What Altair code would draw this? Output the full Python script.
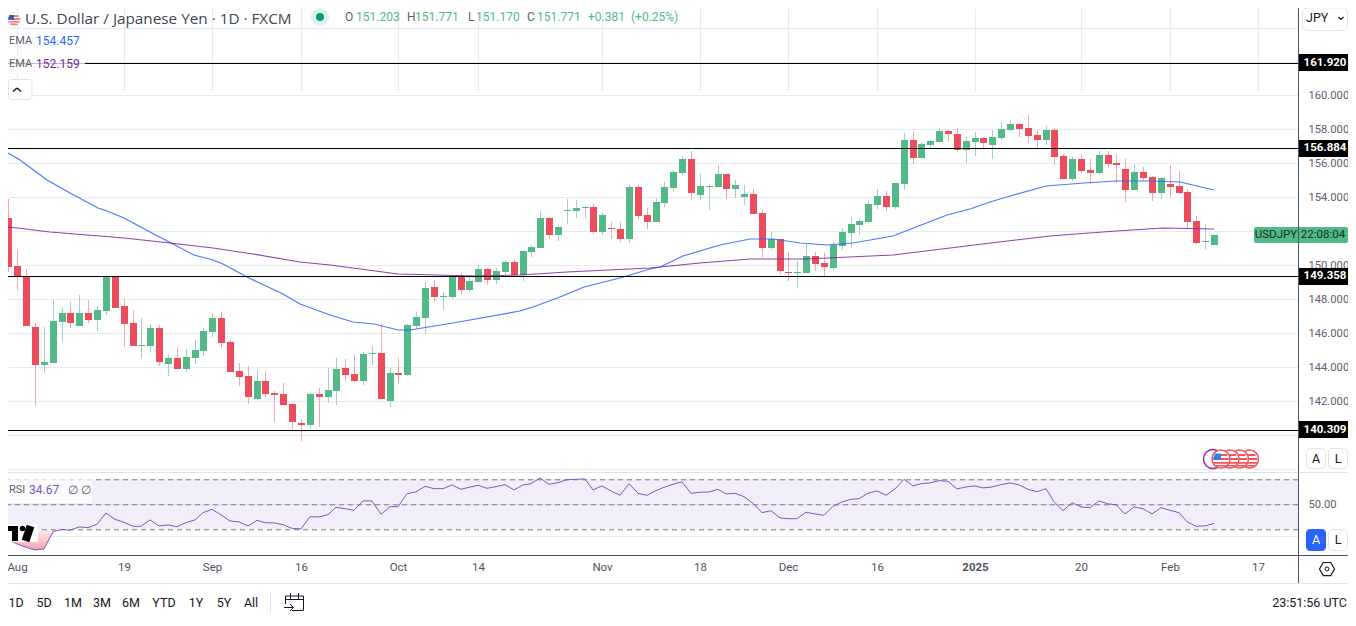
import altair as alt
import pandas as pd

# ---- series values (bars counted from 1 Aug = 0; first bar is index -1) ----
first_bar = -1
open_ = [152.78,149.95,149.36,146.36,144.12,144.26,146.65,147.18,146.42,147.18,
146.77,147.30,149.30,147.59,146.59,145.26,145.24,146.30,144.18,144.53,
143.88,144.53,144.94,146.06,146.89,145.47,143.77,143.47,142.11,143.18,
142.47,142.41,141.82,140.70,140.58,142.41,142.23,142.59,143.94,143.59,
143.18,144.79,144.83,142.00,143.65,143.53,146.42,146.89,148.72,148.14,
148.13,149.30,148.54,149.01,149.78,149.13,149.60,150.19,149.42,150.78,
151.01,152.78,151.78,153.19,153.19,153.37,153.43,151.96,152.19,152.13,
151.54,154.61,152.96,152.55,153.67,154.55,155.43,156.26,154.14,154.61,
154.61,155.37,154.49,154.02,154.20,153.08,151.01,151.54,149.60,149.54,
149.54,150.54,150.13,149.84,151.13,151.90,152.37,152.55,153.55,154.08,
153.43,154.78,157.38,156.32,157.08,157.26,157.91,157.73,156.79,157.26,
157.50,157.08,157.50,157.97,158.32,158.09,157.67,157.38,157.97,156.43,
155.08,156.26,155.61,155.43,156.50,156.02,155.67,154.43,155.49,155.20,
154.25,154.79,154.67,154.31,152.60,151.39,151.203]
high = [153.90,150.90,149.78,146.57,146.36,147.95,147.54,147.83,148.24,147.95,
147.59,149.42,149.36,148.07,147.36,146.89,146.53,146.47,144.71,145.18,
145.06,145.59,146.30,147.18,147.24,145.59,144.24,144.06,143.82,143.77,
142.59,143.06,141.88,140.94,142.47,142.76,143.94,144.53,144.47,144.71,
144.89,145.24,146.53,143.94,144.53,146.53,147.24,149.01,149.13,148.44,
149.42,149.54,149.30,150.01,149.84,149.84,150.30,150.30,150.84,151.19,
153.19,152.84,152.37,153.90,153.84,153.49,153.61,153.08,152.55,152.55,
154.73,154.73,153.37,153.96,154.90,155.61,156.43,156.73,155.37,154.79,
155.90,155.37,155.02,154.73,154.49,153.25,151.96,151.54,150.78,150.25,
151.25,150.78,150.72,151.37,152.19,152.84,152.72,153.78,154.49,154.37,
154.84,157.79,157.91,157.26,157.38,158.09,157.97,158.09,157.55,157.85,
157.55,157.97,158.44,158.56,158.38,158.85,157.97,158.20,158.09,156.55,
156.38,156.55,156.26,156.73,156.73,156.55,156.26,155.96,155.79,155.26,
155.20,155.90,155.55,154.49,152.90,152.43,151.771]
low = [149.62,148.54,146.44,141.72,143.67,144.26,145.47,146.32,146.42,146.59,
146.12,147.06,147.48,145.20,145.24,144.47,144.88,144.06,143.47,143.88,
143.71,144.18,144.65,145.77,145.12,143.71,142.88,141.82,142.06,142.23,
140.76,141.76,140.29,139.64,140.33,140.46,141.88,141.76,143.18,143.12,
142.94,144.12,142.12,141.64,143.00,143.47,146.24,145.95,147.83,147.36,
148.01,148.24,148.42,149.01,148.83,148.89,149.25,149.36,149.07,150.48,
151.01,151.54,151.43,152.43,152.78,152.78,151.84,151.78,151.54,151.37,
151.31,152.72,152.13,152.55,153.43,154.31,155.32,153.84,153.84,153.25,
154.55,153.90,153.96,153.55,153.02,150.48,150.90,149.48,149.07,148.66,
149.54,149.66,149.36,149.72,150.90,151.01,151.78,152.49,153.31,153.19,
153.31,154.43,155.96,156.32,156.91,157.26,157.32,156.67,156.02,156.43,
156.85,156.26,157.38,157.91,157.55,157.20,156.91,157.08,155.90,155.08,
154.96,155.43,154.79,155.37,155.73,154.84,153.72,154.43,154.96,153.78,
153.90,154.02,154.19,152.13,151.25,150.96,151.170]
close = [149.91,149.32,146.44,144.14,144.30,146.71,147.18,146.59,147.18,146.77,
147.36,149.30,147.48,146.53,145.24,145.30,146.30,144.30,144.53,143.88,
144.59,145.00,146.12,146.89,145.41,143.71,143.41,142.23,143.18,142.41,
142.35,141.76,140.76,140.58,142.41,142.23,142.65,143.88,143.53,143.18,
144.77,144.83,142.12,143.65,143.53,146.48,146.95,148.66,148.13,148.18,
149.30,148.54,149.07,149.78,149.13,149.66,150.19,149.42,150.84,151.07,
152.78,151.78,152.25,153.25,153.37,153.43,151.96,152.96,152.13,151.54,
154.61,152.90,152.55,153.72,154.61,155.49,156.26,154.25,154.67,154.67,
155.37,154.49,154.73,154.20,153.02,151.01,151.54,149.66,149.54,149.60,
150.54,150.07,149.89,151.19,151.96,152.43,152.60,153.61,154.08,153.43,
154.84,157.38,156.32,157.14,157.32,157.91,157.73,156.79,157.32,157.50,
157.20,157.55,158.03,158.32,158.03,157.61,157.38,157.97,156.38,155.08,
156.26,155.55,155.43,156.50,155.96,155.90,154.43,155.49,155.14,154.25,
155.14,154.61,154.25,152.55,151.31,151.43,151.771]
rsi = [22.0,18.3,15.6,13.5,14.3,28.1,30.0,29.2,31.9,31.3,34.0,43.1,38.0,35.6,32.4,32.4,37.5,32.7,33.5,32.1,
35.3,37.5,43.3,46.0,41.5,36.7,35.9,32.7,37.2,35.3,35.1,33.7,30.8,30.3,40.1,39.9,41.7,47.6,46.5,45.2,
52.7,52.7,42.0,48.1,48.1,58.5,59.9,64.4,62.5,62.5,65.5,62.0,63.6,65.2,62.8,64.1,65.7,61.5,65.5,66.5,
71.1,66.0,67.3,69.7,70.0,70.3,61.5,64.7,60.7,57.2,66.5,58.8,57.2,60.9,63.6,66.0,67.9,58.8,59.6,59.9,
62.0,58.3,58.8,56.1,50.8,43.3,44.9,39.1,38.5,38.5,43.6,42.3,41.2,48.4,51.9,54.0,54.5,58.8,60.7,57.2,
62.3,70.0,64.7,66.5,67.1,68.9,68.4,62.3,63.9,64.7,63.1,63.9,65.7,67.1,65.5,62.0,60.1,62.5,52.1,44.9,
51.3,47.9,47.3,52.7,50.3,49.7,42.3,47.9,46.5,42.3,47.3,45.2,43.3,36.1,32.4,32.7,34.67]
ema_blue_k = [-1,0.3,3.3,5.9,9.1,10.1,12,15,17.6,19.9,22.1,23.2,25.9,30,31.9,35.3,37.9,40.2,43,44.3,49.2,56.7,58.2,61.2,63.9,68,71.4,72.5,75.1,79.3,82.7,85.3,88.3,91.3,94.3,98.8,104.9,107.5,109.7,112,116.1,120.3,124,127.8,131.2,135]
ema_blue = [156.61,156.20,155.02,154.24,153.39,153.21,152.76,151.94,151.23,150.58,150.29,150.05,149.32,148.30,147.71,147.07,146.67,146.52,146.18,146.20,146.61,147.32,147.55,148.14,148.70,149.23,149.76,149.91,150.56,151.19,151.56,151.53,151.29,151.17,151.29,151.72,152.96,153.33,153.71,154.10,154.67,154.84,154.98,154.98,154.92,154.457]
ema_purple_k = [-1,0,3.7,9.3,12,17.2,22.1,26.6,31.9,35.3,37.9,43,47.3,51.8,56.7,62,71.4,77,82.7,89,98.8,105.2,110.8,116.5,124,129.3,135]
ema_purple = [152.25,152.21,151.97,151.72,151.62,151.29,151.01,150.66,150.21,150.01,149.82,149.50,149.40,149.38,149.44,149.58,149.85,150.15,150.38,150.38,150.60,151.00,151.38,151.72,152.02,152.17,152.159]
levels = [161.920, 156.884, 149.358, 140.309]
tick_k = [0,12,22,32,43,52,66,77,87,97,108,120,130,140]
tick_labels = ['Aug','19','Sep','16','Oct','14','Nov','18','Dec','16','2025','20','Feb','17']
price_grid = [138,140,142,144,146,148,150,152,154,156,158,160,162,164]
rsi_levels = [70, 50, 30]
range_buttons = [('1D',16),('5D',44),('1M',73),('3M',102),('6M',131),('YTD',164),('1Y',196),('5Y',224),('All',251)]

GREEN, RED = '#53b987', '#eb4d5c'
WICK_G, WICK_R = '#a3cfcb', '#f8a3ad'
BLUE, PURPLE = '#2962ff', '#7b1fa2'
RSI_C = '#7e57c2'
GRID = '#e4ecf2'
AXIS_C = '#50535e'
TXT = '#5d606b'
FONT = 'Roboto'
ONE = pd.DataFrame({'a': [0]})
RIGHT = 1348

bars = pd.DataFrame({'k': list(range(first_bar, first_bar + len(open_))), 'o': open_, 'h': high, 'l': low, 'c': close, 'r': rsi})

W, H = 1290, 547
X_SCALE = alt.Scale(domain=[-1.049, 144.48], range=[0, W], round=True, nice=False, zero=False, padding=0)
P_SCALE = alt.Scale(domain=[137.932, 165.156], range=[462, 0], round=True, nice=False, zero=False)
R_SCALE = alt.Scale(domain=[9.44, 75.84], range=[547, 464], nice=False, zero=False)
label_map = '{' + ','.join(f"'{k}':'{t}'" for k, t in zip(tick_k, tick_labels)) + '}'
X_AXIS = alt.Axis(values=tick_k, labelExpr=f"{label_map}[datum.value]", grid=True, gridColor=GRID, gridWidth=1,
                  domain=False, ticks=False, labelPadding=6, labelFont=FONT, labelFontSize=11.5, labelColor=AXIS_C,
                  labelOverlap=False, labelBound=False, labelFlush=False, title=None,
                  labelFontWeight={'condition': {'test': 'datum.value==108', 'value': 'bold'}, 'value': 'normal'})
P_AXIS = alt.Axis(orient='right', values=price_grid, grid=True, gridColor=GRID, gridWidth=1, domain=False, ticks=False,
                  labelExpr="datum.value>=142&&datum.value<=160&&datum.value!=152?format(datum.value,'.3f'):''", labelPadding=10,
                  labelFont=FONT, labelFontSize=11.2, labelColor=TXT, labelOverlap=False, labelBound=False, title=None)
R_AXIS = alt.Axis(orient='right', values=[25, 50], grid=True, gridColor=GRID, gridWidth=1, domain=False, ticks=False,
                  labelExpr="datum.value==50?format(datum.value,'.2f'):''", labelPadding=10,
                  labelFont=FONT, labelFontSize=11.2, labelColor=TXT, labelOverlap=False, labelBound=False, title=None)

def X(f='k'):
    return alt.X(f'{f}:Q', scale=X_SCALE, axis=X_AXIS)
def PY(f):
    return alt.Y(f'{f}:Q', scale=P_SCALE, axis=P_AXIS)
def RY(f):
    return alt.Y(f'{f}:Q', scale=R_SCALE, axis=R_AXIS)

# ---- chrome helpers: pixel positions given in page coordinates ----
def px(v): return alt.value(v - 8)
def text(s, x, y, size=12, color=TXT, align='left', weight='normal', font=FONT):
    return alt.Chart(pd.DataFrame({'t': [s]})).mark_text(align=align, baseline='middle', fontSize=size, color=color,
        fontWeight=weight, font=font).encode(text='t:N', x=px(x), y=px(y))
def box(x, x2, y, y2, fill='#ffffff', stroke=None, radius=0, opacity=1):
    kw = dict(fill=fill, cornerRadius=radius, opacity=opacity)
    if stroke:
        kw.update(stroke=stroke, strokeWidth=1)
    return alt.Chart(ONE).mark_rect(**kw).encode(x=px(x), x2=px(x2), y=px(y), y2=px(y2))
def rule(x, y, x2=None, y2=None, color='#131722', width=1, opacity=1):
    x2 = x if x2 is None else x2
    y2 = y if y2 is None else y2
    return alt.Chart(ONE).mark_rule(color=color, strokeWidth=width, opacity=opacity).encode(x=px(x), x2=px(x2), y=px(y), y2=px(y2))
def sym(shape, x, y, d, fill=None, stroke=None, sw=1.5, opacity=1):
    kw = dict(shape=shape, size=d * d, opacity=opacity, filled=bool(fill))
    if fill:
        kw['fill'] = fill
    if stroke:
        kw.update(stroke=stroke, strokeWidth=sw)
    if fill and not stroke:
        kw['strokeWidth'] = 0
    return alt.Chart(ONE).mark_point(**kw).encode(x=px(x), y=px(y))

STRIPES = 'M-0.75,-0.62H0.75V-0.36H-0.75ZM-0.98,-0.12H0.98V0.12H-0.98ZM-0.92,0.36H0.92V0.58H-0.92ZM-0.6,0.76H0.6V0.94H-0.6Z'
CANTON = 'M-0.72,-0.68H0.0V0.12H-0.95V-0.2Z'
HEX = 'M-1,0L-0.5,-0.87L0.5,-0.87L1,0L0.5,0.87L-0.5,0.87Z'
def flag(x, y, d, canton=False):
    parts = [sym('circle', x, y, d, fill='#ffffff', stroke='#f2545b', sw=1.5),
             sym(STRIPES, x, y, d - 2, fill='#f2545b')]
    if canton:
        parts.append(sym(CANTON, x, y, d - 2, fill='#2f80ed'))
    return parts

# ---- RSI pane ----
oversold = bars[bars.k <= 5].assign(f=30)
rsi_band = pd.DataFrame({'hi': [rsi_levels[0]], 'lo': [rsi_levels[2]]})
rsi_dash = pd.DataFrame({'v': rsi_levels})
rsi_pane = alt.layer(
    alt.Chart(rsi_band).mark_rect(color=RSI_C, opacity=0.1).encode(x=alt.value(0), x2=alt.value(W), y=RY('hi'), y2='lo:Q'),
    alt.Chart(oversold).mark_area(clip=True, color=alt.Gradient(gradient='linear',
        stops=[alt.GradientStop(color='#fff0f1', offset=0), alt.GradientStop(color='#f7a3ac', offset=1)],
        x1=0, x2=0, y1=0, y2=1)).encode(x=X(), y=RY('r'), y2='f:Q'),
    alt.Chart(rsi_dash).mark_rule(color='#787b86', strokeWidth=1, strokeDash=[5, 4], yOffset=0.5).encode(y=RY('v')),
    alt.Chart(bars).mark_line(color=RSI_C, strokeWidth=1, clip=True).encode(x=X(), y=RY('r')),
)

# ---- price pane ----
up = 'datum.c>=datum.o'
lvl = pd.DataFrame({'p': levels, 'lab': [f'{v:.3f}' for v in levels], 'top': [v + 0.5 for v in levels], 'bot': [v - 0.5 for v in levels]})
last = pd.DataFrame({'p': [close[-1]], 'top': [close[-1] + 0.47], 'bot': [close[-1] - 0.47], 'a': ['USDJPY'], 'b': ['22:08:04']})
ema1 = pd.DataFrame({'k': ema_blue_k, 'v': ema_blue})
ema2 = pd.DataFrame({'k': ema_purple_k, 'v': ema_purple})
price_pane = alt.layer(
    alt.Chart(bars).mark_rule(strokeWidth=1, xOffset=0.5, clip=True).encode(
        x=X(), y=PY('h'), y2='l:Q', color=alt.condition(up, alt.value(WICK_G), alt.value(WICK_R))),
    alt.Chart(bars).mark_bar(size=7, xOffset=0.5, orient='vertical', minBandSize=1, clip=True).encode(
        x=X(), y=PY('o'), y2='c:Q', color=alt.condition(up, alt.value(GREEN), alt.value(RED))),
    alt.Chart(ema1).mark_line(color=BLUE, strokeWidth=1.2, clip=True, opacity=0.85).encode(x=X(), y=PY('v')),
    alt.Chart(ema2).mark_line(color=PURPLE, strokeWidth=1.2, clip=True, opacity=0.85).encode(x=X(), y=PY('v')),
    alt.Chart(lvl).mark_rule(color='#000000', strokeWidth=1.2, yOffset=0.5).encode(y=PY('p'), x=alt.value(0), x2=alt.value(W)),
    alt.Chart(lvl).mark_rect(color='#000000').encode(x=alt.value(W + 0.5), x2=alt.value(W + 50), y=PY('top'), y2='bot:Q'),
    alt.Chart(lvl).mark_text(color='#ffffff', fontWeight='bold', fontSize=11.5, font=FONT, baseline='middle', align='center').encode(
        x=alt.value(W + 27), y=PY('p'), text='lab:N'),
    alt.Chart(last).mark_rect(color=GREEN, cornerRadius=2).encode(x=px(1254), x2=px(RIGHT), y=PY('top'), y2='bot:Q'),
    alt.Chart(last).mark_text(color='#123326', fontSize=11.5, font=FONT, baseline='middle', align='center').encode(
        x=px(1276), y=PY('p'), text='a:N'),
    alt.Chart(last).mark_text(color='#123326', fontSize=11.5, font=FONT, baseline='middle', align='center').encode(
        x=px(1323), y=PY('p'), text='b:N'),
)

# ---- surrounding interface ----
front = [
    box(8, 85, 55, 74, opacity=0.75),
    sym('circle', 14, 19, 13, fill='#ffffff', stroke='#e6e8ee', sw=1),
    sym(STRIPES, 14, 19, 12, fill='#f2545b'),
    sym(CANTON, 14, 19, 12, fill='#2f5fb3'),
    text('U.S. Dollar / Japanese Yen · 1D · FXCM', 25, 18.5, size=15.3, color='#434651', font='Open Sans'),
    sym('circle', 320, 17, 18, fill='#089981', opacity=0.14),
    sym('circle', 320, 17, 8, fill='#089981'),
    text('O', 345, 17, color=TXT), text('151.203', 356, 17, color=GREEN),
    text('H', 407, 17, color=TXT), text('151.771', 415, 17, color=GREEN),
    text('L', 468, 17, color=TXT), text('151.170', 476, 17, color=GREEN),
    text('C', 527, 17, color=TXT), text('151.771', 537, 17, color=GREEN),
    text('+0.381', 588, 17, color=GREEN), text('(+0.25%)', 631, 17, color=GREEN),
    text('EMA', 9, 41, size=11, color=TXT), text('154.457', 36, 41, color=BLUE),
    text('EMA', 9, 64, size=11, color=TXT), text('152.159', 36, 64, color=PURPLE),
    box(8.5, 32, 79.5, 99.5, stroke='#e0e3eb', radius=3),
    rule(13, 91.5, 17, 88, color='#131722', width=1.5),
    rule(17, 88, 21, 91.5, color='#131722', width=1.5),
    # pane separators and axis lines
    rule(8, 472.5, RIGHT, color='#e0e3eb'),
    rule(8, 555.5, RIGHT, color=AXIS_C),
    rule(8, 583.5, RIGHT, color='#e0e3eb'),
    rule(1298.5, 8, y2=583, color=AXIS_C),
    rule(1298.5, 228, y2=244, color=AXIS_C, opacity=0.35),
    # RSI legend
    box(8, 92, 477, 503, opacity=0.7),
    text('RSI', 9, 490, size=11, color=TXT), text('34.67', 29, 490, color=RSI_C),
    text('∅', 68, 490, color=TXT), text('∅', 81, 490, color=TXT),
    # logo
    box(8, 38, 524, 542, opacity=0.95),
    box(8, 18, 526, 531, fill='#000000'),
    box(12, 18, 526, 541, fill='#000000'),
    sym('circle', 22.5, 528.5, 5.5, fill='#000000'),
    rule(30.5, 526, 25.5, 541, color='#000000', width=8),
    # event markers
    sym('circle', 1213, 459, 19, fill='#ffffff', stroke='#9c27b0', sw=1.5),
    *flag(1249.5, 459, 18),
    *flag(1239.5, 459, 18),
    *flag(1230, 459, 18),
    *flag(1221, 459, 18, canton=True),
    # currency / scale buttons
    box(1302.5, RIGHT - 0.5, 8, 30.5, stroke='#e0e3eb', radius=5),
    text('JPY', 1306, 18, size=12.5, color='#131722'),
    rule(1338.5, 17, 1341, 19.5, color='#131722', width=1.2),
    rule(1341, 19.5, 1343.5, 17, color='#131722', width=1.2),
    box(1306.5, 1325.5, 448.5, 468.5, stroke='#e0e3eb', radius=4),
    box(1328.5, 1347.5, 448.5, 468.5, stroke='#e0e3eb', radius=4),
    text('A', 1316, 458.5, size=12.5, color='#131722', align='center'),
    text('L', 1338, 458.5, size=12.5, color='#131722', align='center'),
    box(1306, 1326, 529, 551, fill=BLUE, radius=4),
    box(1328.5, 1347.5, 529.5, 550.5, stroke='#e0e3eb', radius=4),
    text('A', 1316, 540, size=12.5, color='#ffffff', align='center'),
    text('L', 1338, 540, size=12.5, color='#131722', align='center'),
    # settings icon
    sym(HEX, 1327, 569, 15, stroke='#131722', sw=1.2),
    sym('circle', 1327, 569, 4, stroke='#131722', sw=1),
    # bottom toolbar
    *[text(t, x, 603, size=12.5, color='#131722', align='center') for t, x in range_buttons],
    rule(270.5, 593, y2=613, color='#e0e3eb'),
    rule(285.5, 596, 303.5, color='#131722'), rule(285.5, 599.5, 303.5, color='#131722'),
    rule(285.5, 596, y2=604, color='#131722'), rule(303.5, 596, y2=610, color='#131722'),
    rule(292, 610.5, 303.5, color='#131722'),
    rule(290.5, 593, y2=599, color='#131722'), rule(298.5, 593, y2=599, color='#131722'),
    rule(284, 607.5, 293, color='#131722'), rule(290, 604, 293.5, 607.5, color='#131722'), rule(293.5, 607.5, 290, 611, color='#131722'),
    text('23:51:56 UTC', 1347, 603, size=12.5, color='#131722', align='right'),
]

chart = alt.layer(rsi_pane, price_pane, *front).resolve_scale(y='independent').properties(
    width=W, height=H, background='#ffffff',
    autosize=alt.AutoSizeParams(type='none'),
    padding={'left': 0, 'top': 0, 'right': 50, 'bottom': 63},
).configure_view(stroke=None)

chart.save("out.html", embed_options={"renderer": "svg", "actions": False})
